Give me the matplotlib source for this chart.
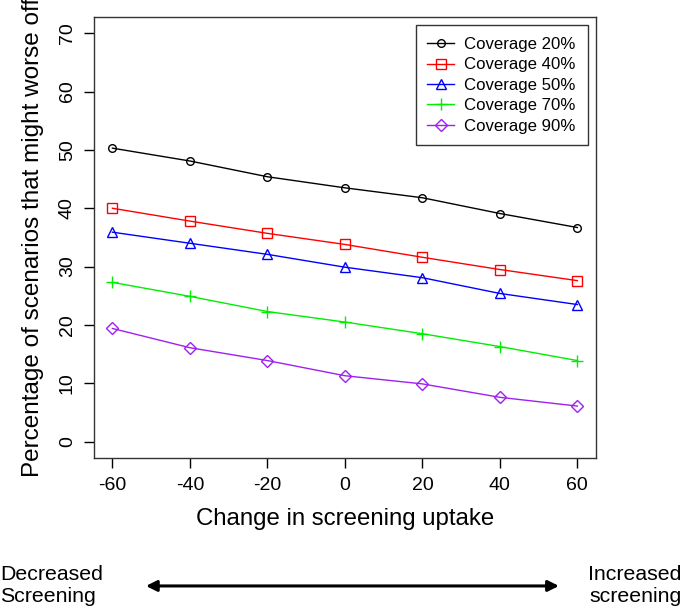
import matplotlib
matplotlib.use("Agg")
import matplotlib.pyplot as plt

plt.rcParams['font.family'] = ['Liberation Sans', 'DejaVu Sans']

# change in screening uptake
uptake = [-60, -40, -20, 0, 20, 40, 60]

cov20 = [50.3, 48.1, 45.4, 43.5, 41.8, 39.1, 36.7]
cov40 = [40.0, 37.8, 35.7, 33.8, 31.6, 29.5, 27.6]
cov50 = [35.9, 34.0, 32.1, 29.9, 28.1, 25.4, 23.5]
cov70 = [27.3, 24.9, 22.3, 20.5, 18.5, 16.3, 13.9]
cov90 = [19.4, 16.1, 13.9, 11.3, 9.9, 7.6, 6.1]

labels = ["Coverage 20%", "Coverage 40%", "Coverage 50%", "Coverage 70%", "Coverage 90%"]
xticks = [-60, -40, -20, 0, 20, 40, 60]
yticks = [0, 10, 20, 30, 40, 50, 60, 70]

series = [cov20, cov40, cov50, cov70, cov90]
colors = ["black", "#FF0000", "#0000FF", "#00EE00", "#A020F0"]
markers = ["o", "s", "^", "+", "D"]
msizes = [5.5, 6.5, 7.5, 9, 6]

fig = plt.figure(figsize=(6.85, 6.11), dpi=100)
ax = fig.add_axes([0.137, 0.2504, 0.733, 0.722])

for vals, c, m, ms, lab in zip(series, colors, markers, msizes, labels):
    ax.plot(uptake, vals, color=c, marker=m, markersize=ms, markerfacecolor='none',
            markeredgecolor=c, markeredgewidth=1.0, linewidth=1.0, label=lab)

ax.set_xlim(-64.8, 64.8)
ax.set_ylim(-2.8, 72.8)
ax.set_xticks(xticks)
ax.set_yticks(yticks)
ax.set_xticklabels([str(t) for t in xticks], fontsize=14)
ax.set_yticklabels([str(t) for t in yticks], fontsize=14, rotation=90, va='center')
ax.tick_params(direction='out', length=7, width=1)
ax.tick_params(axis='x', pad=7)
ax.tick_params(axis='y', pad=6)
for s in ax.spines.values():
    s.set_linewidth(1.0)
    s.set_color('#333333')

ax.set_xlabel("Change in screening uptake", fontsize=17.3, labelpad=10)
ax.set_ylabel("Percentage of scenarios that might worse off", fontsize=17.5, labelpad=11)

leg = ax.legend(loc='upper right', fontsize=12.1, frameon=True, fancybox=False,
                edgecolor='black', borderaxespad=0.5, handlelength=1.6,
                labelspacing=0.32, borderpad=0.7, handletextpad=0.6)
leg.get_frame().set_linewidth(1.0)

# arrow and direction labels below the axis
fig.text(0.0, 0.0417, "Decreased\nScreening", fontsize=15.3, ha='left', va='center', linespacing=1.2)
fig.text(0.995, 0.0417, "Increased\nscreening", fontsize=15.3, ha='right', va='center', linespacing=1.2)
fig.patches.append(matplotlib.patches.FancyArrowPatch(
    (0.209, 0.041), (0.82, 0.041), transform=fig.transFigure,
    arrowstyle='<|-|>', mutation_scale=16, linewidth=2.2, color='black'))

fig.savefig("out.png", dpi=100)
